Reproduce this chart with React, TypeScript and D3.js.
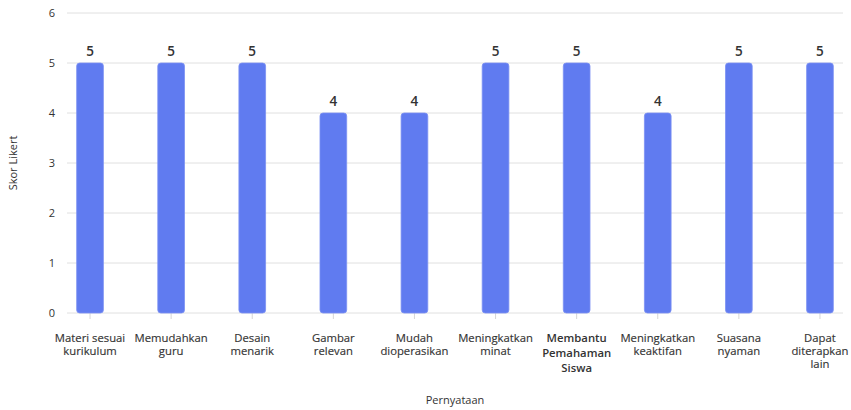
import React from "react";
import * as d3 from "d3";

const categories: string[][] = [
  ["Materi sesuai", "kurikulum"],
  ["Memudahkan", "guru"],
  ["Desain", "menarik"],
  ["Gambar", "relevan"],
  ["Mudah", "dioperasikan"],
  ["Meningkatkan", "minat"],
  ["Membantu", "Pemahaman", "Siswa"],
  ["Meningkatkan", "keaktifan"],
  ["Suasana", "nyaman"],
  ["Dapat", "diterapkan", "lain"],
];
const scores: number[] = [5, 5, 5, 4, 4, 5, 5, 4, 5, 5];
const yTicks: number[] = [0, 1, 2, 3, 4, 5, 6];

const W = 851;
const H = 410;
const margin = { left: 67, right: 8, top: 13, bottom: 97 };
const FONT = "'Open Sans', 'Noto Sans', sans-serif";

export default function App() {
  const innerW = W - margin.left - margin.right;
  const innerH = H - margin.top - margin.bottom;
  const keys = categories.map((_, i) => String(i));

  const x = d3.scalePoint<string>().domain(keys).range([0, innerW]).padding(0.284);
  const y = d3.scaleLinear().domain([0, 6]).range([innerH, 0]);
  const barW = 26.7;

  return (
    <svg
      width={W}
      height={H}
      style={{ position: "absolute", left: 0, top: 0, fontFamily: FONT }}
    >
      <g transform={`translate(${margin.left},${margin.top})`}>
        {yTicks.map((t) => (
          <g key={t} transform={`translate(0,${y(t)})`}>
            <line x1={0} x2={innerW} stroke="#e0e0e0" strokeWidth={1} />
            <text x={-12} dy="0.35em" textAnchor="end" fontSize={11} fill="#333">
              {t}
            </text>
          </g>
        ))}
        {keys.map((k) => (
          <line
            key={"t" + k}
            x1={x(k)}
            x2={x(k)}
            y1={innerH}
            y2={innerH + 6}
            stroke="#d6d6d6"
          />
        ))}
        {scores.map((v, i) => {
          const cx = x(keys[i]) as number;
          return (
            <g key={"b" + i}>
              <rect
                x={cx - barW / 2}
                y={y(v)}
                width={barW}
                height={innerH - y(v)}
                rx={3}
                ry={3}
                fill="#607bf0"
                stroke="#7b91f3"
                strokeWidth={0.8}
              />
              <text
                x={cx}
                y={y(v) - 7}
                textAnchor="middle"
                fontSize={13.5}
                fontWeight={600}
                fill="#333"
              >
                {v}
              </text>
            </g>
          );
        })}
        {categories.map((lines, i) => {
          const strong = lines.length === 3 && lines[0] === "Membantu";
          return (
            <text
              key={"c" + i}
              x={x(keys[i])}
              y={innerH + 28.5}
              textAnchor="middle"
              fontSize={11.3}
              fontWeight={strong ? 600 : 400}
              fill="#333"
              stroke={strong ? "none" : "#333"}
              strokeWidth={strong ? 0 : 0.15}
            >
              {lines.map((ln, j) => (
                <tspan key={j} x={x(keys[i])} dy={j === 0 ? 0 : strong ? 15 : 13}>
                  {ln}
                </tspan>
              ))}
            </text>
          );
        })}
        <text
          x={innerW / 2}
          y={innerH + 91}
          textAnchor="middle"
          fontSize={11}
          fill="#333"
        >
          Pernyataan
        </text>
        <text
          transform={`translate(${-50},${innerH / 2}) rotate(-90)`}
          textAnchor="middle"
          fontSize={11}
          fill="#333"
        >
          Skor Likert
        </text>
      </g>
    </svg>
  );
}
